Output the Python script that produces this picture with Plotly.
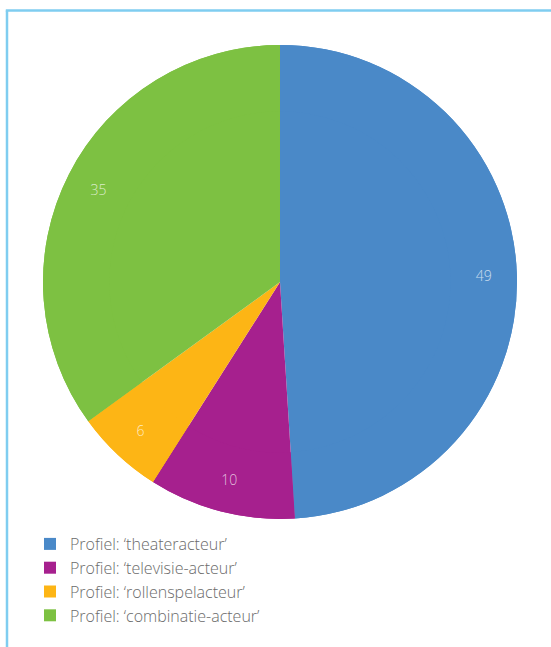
import plotly.graph_objects as go

labels = ["Profiel: ‘theateracteur’", "Profiel: ‘televisie-acteur’",
          "Profiel: ‘rollenspelacteur’", "Profiel: ‘combinatie-acteur’"]
values = [49, 10, 6, 35]
colors = ["#4a89c8", "#a6208e", "#fdb515", "#7dc142"]

W, H = 551, 647
dom = dict(x=[43 / W, 517 / W], y=[(H - 519) / H, (H - 45) / H])

fig = go.Figure()
# full pie (colours + legend)
fig.add_trace(go.Pie(
    labels=labels, values=values,
    marker=dict(colors=colors, line=dict(width=0)),
    sort=False, direction="clockwise", rotation=0,
    textinfo="none", hoverinfo="label+value",
    domain=dom, showlegend=True,
))
# ring carrying the value labels near the outer edge
fig.add_trace(go.Pie(
    labels=labels, values=values, hole=0.72,
    marker=dict(colors=colors, line=dict(width=0)),
    sort=False, direction="clockwise", rotation=0,
    textinfo="value", textposition="inside",
    insidetextorientation="horizontal",
    insidetextfont=dict(family="Open Sans", size=14, color="rgba(255,255,255,0.72)", weight=300),
    hoverinfo="skip",
    domain=dom, showlegend=False,
))

border = "#7fcdf0"
fig.update_layout(
    width=W, height=H,
    margin=dict(l=0, r=0, t=0, b=0),
    paper_bgcolor="white",
    plot_bgcolor="white",
    showlegend=True,
    legend=dict(
        x=30 / W, y=(H - 527) / H, xanchor="left", yanchor="top",
        font=dict(family="Open Sans", size=16, color="#6b6b6b", weight=300),
        bgcolor="rgba(0,0,0,0)",
        tracegroupgap=0,
        itemwidth=30,
    ),
    shapes=[
        dict(type="line", xref="paper", yref="paper",
             x0=7 / W, x1=7 / W, y0=0, y1=(H - 10.5) / H,
             line=dict(color=border, width=2.5)),
        dict(type="line", xref="paper", yref="paper",
             x0=5.8 / W, x1=1, y0=(H - 10.5) / H, y1=(H - 10.5) / H,
             line=dict(color=border, width=2.5)),
    ],
)

fig.write_html("out.html", config={"displayModeBar": False},
               post_script="document.body.style.margin='0';")
